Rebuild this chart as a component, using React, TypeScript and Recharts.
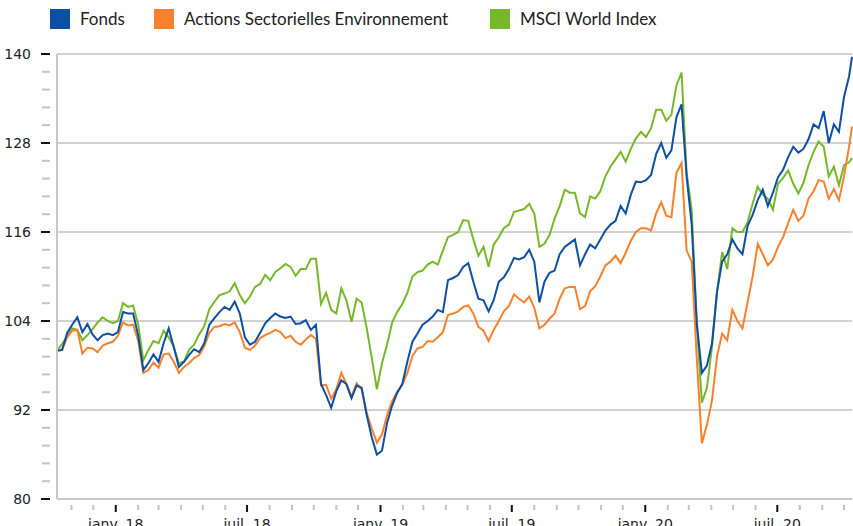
import { LineChart, Line, XAxis, YAxis, ReferenceLine } from 'recharts';

// weekly closes, base 100 (12 Oct 2017 -> 12 Oct 2020)
const fonds = [
  100, 100.1, 102.4, 103.5, 104.5, 102.5, 103.6, 102.2, 101.4, 102.1,
  102.3, 102.1, 102.5, 105.2, 105, 105, 102, 97.4, 98.3, 99.5,
  98.5, 101, 103, 100.5, 97.8, 98.5, 99.4, 100.2, 99.8, 101,
  103.5, 104.4, 105.2, 105.9, 105.5, 106.6, 105, 101.8, 100.8, 101.2,
  102.4, 103.7, 104.4, 105, 104.6, 104.4, 104.6, 103.6, 103.7, 104.1,
  102.8, 103.5, 95.5, 94, 92.3, 94.5, 96, 95.5, 93.6, 95.3,
  95, 91.3, 88.3, 86, 86.5, 90.2, 92.6, 94.3, 95.5, 98.5,
  101.2, 102.3, 103.5, 104, 104.6, 105.5, 105.2, 109.5, 109.8, 110.2,
  111.3, 111.8, 109.3, 107, 106.8, 105.3, 106.8, 109.3, 109.9, 111,
  112.5, 112.3, 112.6, 113.6, 112, 106.5, 109.3, 110.5, 110.8, 113,
  114, 114.5, 115, 111.5, 113, 114.3, 113.8, 115, 116.2, 117,
  117.5, 119.5, 118.5, 121, 122.8, 122.7, 123, 123.7, 126.5, 128,
  126, 127, 131.5, 133.2, 123.5, 117, 103.7, 97, 98, 101,
  108, 112, 113, 115, 113.8, 113, 116.8, 118.3, 120.3, 121.7,
  119.5, 121.3, 123.4, 124.4, 126.1, 127.5, 126.7, 127.2, 128.5, 130.5,
  130, 132.3, 128, 130.5, 129.5, 134.2, 137, 139.6,
];

const sectorielles = [
  100, 100.1, 101.8, 102.7, 102.8, 99.6, 100.4, 100.3, 99.8, 100.7,
  101, 101.2, 102, 103.8, 103.4, 103.5, 101.3, 97, 97.4, 98.4,
  97.7, 99.5, 99.6, 98.5, 97, 97.8, 98.3, 99, 99.4, 100.6,
  102.4, 103.2, 103.3, 103.6, 103.4, 103.8, 102.5, 100.4, 100.1, 100.7,
  101.7, 102.1, 102.4, 102.8, 102.5, 101.7, 102, 101.2, 100.8, 101.5,
  102.1, 101.6, 95.3, 95.4, 93.5, 94.8, 97, 95.5, 93.8, 95.6,
  94.8, 91.6, 89.5, 87.6, 88.7, 91.3, 93.2, 94.5, 95.4, 97,
  99.3, 100.3, 100.5, 101.3, 101.2, 101.8, 102.5, 104.8, 105, 105.3,
  105.9, 106.1, 105, 103.2, 102.7, 101.3, 102.8, 104, 105.3, 106,
  107.6, 107, 106.5, 107.3, 105.8, 103, 103.5, 104.3, 105, 107,
  108.4, 108.6, 108.6, 105.6, 106, 108, 108.7, 110, 111.5, 112,
  112.8, 111.8, 113.2, 114.8, 116, 116.5, 116.5, 116.2, 118.5, 120,
  118.2, 118, 124, 125.3, 113.5, 112, 99, 87.5, 90, 93.3,
  99.3, 102.3, 101.4, 105.5, 104, 103, 106.5, 110, 114.4, 113,
  111.5, 112.3, 114, 115.3, 117.2, 119, 117.5, 118.2, 120.5, 121.5,
  123, 122.8, 120.5, 121.8, 120.3, 123.5, 127.5, 130.2,
];

const msciWorld = [
  100, 100.9, 101.9, 103, 102.8, 101.4, 102.1, 102.9, 103.8, 104.5,
  104, 103.7, 104, 106.4, 105.9, 106.1, 103.5, 98.7, 100.1, 101.3,
  101, 102.7, 101.8, 100.5, 98.3, 98.5, 100.1, 100.8, 102.2, 103.3,
  105.6, 106.6, 107.5, 107.7, 108, 109.1, 107.5, 106.4, 107.3, 108.6,
  109, 110.2, 109.5, 110.6, 111.1, 111.7, 111.3, 110.1, 111, 111,
  112.4, 112.4, 106.3, 107.8, 105.5, 105, 108.4, 106.8, 103.9, 107,
  106.5, 103, 99, 94.8, 98.3, 100.8, 103.8, 105.2, 106.3, 107.8,
  110, 110.6, 110.8, 111.6, 112, 111.6, 113.5, 115.3, 115.6, 116,
  117.6, 117.5, 115, 112.8, 114, 111.3, 114.3, 115.3, 116.5, 117,
  118.7, 118.9, 119.1, 119.8, 118.5, 114, 114.4, 115.6, 117.8, 119.5,
  121.7, 121.3, 121.3, 118.5, 118, 120.8, 120.5, 121.5, 123.5, 124.8,
  125.8, 126.8, 125.5, 127.2, 128.6, 129.5, 128.8, 130, 132.5, 132.5,
  131, 131.8, 135.8, 137.5, 124, 119, 103.7, 93, 95, 100.5,
  108, 113.3, 111, 116.5, 116, 116, 117.3, 119.8, 122.1, 121,
  120.5, 119, 122.5, 123.3, 124.3, 122.5, 121.2, 122.6, 125, 126.8,
  128.2, 127.5, 123.5, 124.8, 122.3, 125, 125.4, 126,
];

const DAY = 86400000;
const START = Date.UTC(2017, 9, 12);
const END = Date.UTC(2020, 9, 12);
const dates = fonds.map((_, i) => (i < fonds.length - 1 ? START + i * 7 * DAY : END));

const data = dates.map((date, i) => ({
  date,
  fonds: fonds[i],
  sectorielles: sectorielles[i],
  msci: msciWorld[i],
}));

const MONTH_NAMES: Record<number, string> = { 0: 'janv.', 6: 'juil.' };
const monthTicks: number[] = [];
for (let y = 2017; y <= 2020; y++) {
  for (let m = 0; m < 12; m++) {
    const t = Date.UTC(y, m, 1);
    if (t > START && t < END) monthTicks.push(t);
  }
}

const yTicks = [
  80, 82.4, 84.8, 87.2, 89.6, 92, 94.4, 96.8, 99.2, 101.6, 104, 106.4, 108.8,
  111.2, 113.6, 116, 118.4, 120.8, 123.2, 125.6, 128, 130.4, 132.8, 135.2, 137.6, 140,
];
const yMajor = [80, 92, 104, 116, 128, 140];

const series = [
  { key: 'fonds', name: 'Fonds', color: '#0d4fa3' },
  { key: 'sectorielles', name: 'Actions Sectorielles Environnement', color: '#f7812c' },
  { key: 'msci', name: 'MSCI World Index', color: '#76b82a' },
];

const LABEL_FONT = '"DejaVu Sans", Verdana, sans-serif';

function YTick(props: any) {
  const { x, y, payload } = props;
  const major = yMajor.includes(payload.value);
  if (!major) {
    return <line x1={x - 9} x2={x - 1} y1={y} y2={y} stroke="#c4c4c4" strokeWidth={2} />;
  }
  return (
    <g>
      <line x1={x - 10} x2={x - 1} y1={y} y2={y} stroke="#111" strokeWidth={2} />
      <text x={x - 20} y={y + 5} textAnchor="end" fontSize={14} fontFamily={LABEL_FONT} fill="#222">
        {payload.value}
      </text>
    </g>
  );
}

function XTick(props: any) {
  const { x, y, payload } = props;
  const d = new Date(payload.value);
  const label = MONTH_NAMES[d.getUTCMonth()];
  if (!label) {
    return <line x1={x} x2={x} y1={y} y2={y + 5} stroke="#c4c4c4" strokeWidth={2} />;
  }
  return (
    <g>
      <line x1={x} x2={x} y1={y} y2={y + 7} stroke="#111" strokeWidth={2} />
      <text x={x} y={y + 24} textAnchor="middle" fontSize={14} fontFamily={LABEL_FONT} fill="#222">
        {`${label} ${String(d.getUTCFullYear()).slice(2)}`}
      </text>
    </g>
  );
}

export default function App() {
  return (
    <div style={{ position: 'absolute', left: 0, top: 0, width: 853, height: 526, background: '#fff' }}>
      {/* legend */}
      <div style={{ position: 'absolute', left: 0, top: 0, height: 40, fontFamily: 'Lato, "Open Sans", sans-serif', fontSize: 17, color: '#222' }}>
        {series.map((s, i) => (
          <div key={s.key} style={{ position: 'absolute', top: 8, left: [50, 154, 490][i], display: 'flex', alignItems: 'center', whiteSpace: 'nowrap' }}>
            <span style={{ display: 'inline-block', width: 20, height: 20, background: s.color, marginRight: 10 }} />
            <span>{s.name}</span>
          </div>
        ))}
      </div>

      <LineChart width={853} height={526} data={data} margin={{ top: 54, right: 1, bottom: 0, left: 0 }}>
        <XAxis
          dataKey="date"
          type="number"
          domain={[START, END]}
          ticks={monthTicks}
          interval={0}
          tick={<XTick />}
          tickLine={false}
          tickMargin={0}
          height={27}
          axisLine={{ stroke: '#c8c8c8', strokeWidth: 2 }}
        />
        <YAxis
          type="number"
          domain={[80, 140]}
          ticks={yTicks}
          interval={0}
          tick={<YTick />}
          tickLine={false}
          tickMargin={0}
          width={57}
          axisLine={{ stroke: '#c8c8c8', strokeWidth: 2 }}
        />
        {yMajor.slice(1).map((v) => (
          <ReferenceLine key={v} y={v} stroke="#d2d2d2" strokeWidth={2} />
        ))}
        <Line dataKey="msci" name="MSCI World Index" stroke="#76b82a" strokeWidth={2} dot={false} isAnimationActive={false} />
        <Line dataKey="sectorielles" name="Actions Sectorielles Environnement" stroke="#f7812c" strokeWidth={2} dot={false} isAnimationActive={false} />
        <Line dataKey="fonds" name="Fonds" stroke="#0d4fa3" strokeWidth={2} dot={false} isAnimationActive={false} />
      </LineChart>
    </div>
  );
}
